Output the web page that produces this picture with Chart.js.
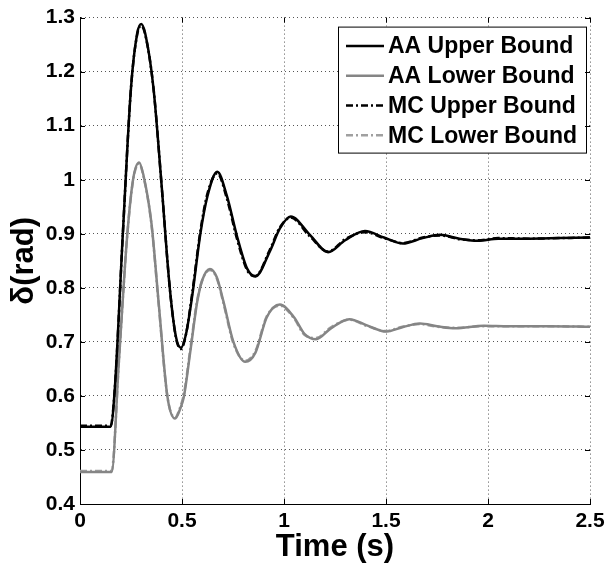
<!DOCTYPE html>
<html>
<head>
<meta charset="utf-8">
<script src="https://cdn.jsdelivr.net/npm/chart.js@4/dist/chart.umd.min.js"></script>
<style>
  body { margin: 0; background: #fff; }
  #wrap { width: 611px; height: 567px; position: relative; }
</style>
</head>
<body>
<div id="wrap"><canvas id="deltaChart"></canvas></div>
<script>
// time samples (s)
const tUpper = [0, 0.15, 0.17, 0.21, 0.25, 0.28, 0.30, 0.32, 0.36, 0.40, 0.44, 0.47, 0.495, 0.52, 0.55, 0.59, 0.625, 0.673, 0.72, 0.77, 0.82, 0.86, 0.93, 0.98, 1.033, 1.127, 1.216, 1.30, 1.397, 1.49, 1.583, 1.68, 1.765, 1.86, 1.95, 2.05, 2.2, 2.35, 2.5];
const tLower = [0, 0.155, 0.19, 0.23, 0.26, 0.29, 0.31, 0.35, 0.385, 0.428, 0.466, 0.49, 0.51, 0.54, 0.575, 0.60, 0.637, 0.67, 0.703, 0.752, 0.81, 0.86, 0.915, 0.98, 1.05, 1.10, 1.157, 1.23, 1.32, 1.41, 1.50, 1.58, 1.667, 1.75, 1.84, 1.98, 2.1, 2.3, 2.5];

// delta (rad)
const aaUpper = [0.543, 0.543, 0.61, 0.90, 1.17, 1.27, 1.288, 1.27, 1.17, 0.99, 0.80, 0.71, 0.689, 0.715, 0.785, 0.90, 0.97, 1.015, 0.97, 0.895, 0.835, 0.821, 0.867, 0.91, 0.932, 0.898, 0.866, 0.888, 0.905, 0.893, 0.882, 0.892, 0.898, 0.891, 0.887, 0.891, 0.891, 0.892, 0.893];
const aaLower = [0.459, 0.459, 0.66, 0.89, 1.0, 1.032, 1.01, 0.92, 0.775, 0.60, 0.558, 0.575, 0.60, 0.68, 0.775, 0.815, 0.835, 0.82, 0.775, 0.70, 0.663, 0.68, 0.745, 0.769, 0.745, 0.715, 0.705, 0.725, 0.742, 0.73, 0.719, 0.727, 0.734, 0.729, 0.725, 0.730, 0.729, 0.729, 0.728];
const mcUpper = [0.545, 0.545, 0.61, 0.90, 1.17, 1.268, 1.285, 1.268, 1.17, 0.99, 0.80, 0.708, 0.687, 0.715, 0.79, 0.905, 0.975, 1.012, 0.965, 0.89, 0.832, 0.822, 0.87, 0.912, 0.93, 0.895, 0.867, 0.89, 0.903, 0.892, 0.883, 0.893, 0.897, 0.89, 0.888, 0.892, 0.891, 0.892, 0.893];
const mcLower = [0.461, 0.461, 0.66, 0.89, 0.998, 1.03, 1.008, 0.918, 0.772, 0.60, 0.56, 0.578, 0.605, 0.685, 0.778, 0.815, 0.833, 0.818, 0.772, 0.697, 0.665, 0.683, 0.747, 0.767, 0.743, 0.713, 0.707, 0.727, 0.741, 0.729, 0.72, 0.728, 0.733, 0.728, 0.726, 0.729, 0.729, 0.729, 0.728];

const seriesNames = ["AA Upper Bound", "AA Lower Bound", "MC Upper Bound", "MC Lower Bound"];

const dashDot = [7, 3, 2, 3];
const pts = (ts, vs) => ts.map((t, i) => ({ x: t, y: vs[i] }));

function makeSet(label, ts, vs, color, dash) {
  return {
    label: label,
    data: pts(ts, vs),
    borderColor: color,
    borderWidth: 2.5,
    borderDash: dash,
    pointRadius: 0,
    cubicInterpolationMode: "monotone",
    fill: false,
  };
}

// legend drawn as a boxed overlay in the top-right of the plot
const boxLegend = {
  id: "boxLegend",
  afterDatasetsDraw(chart) {
    const ctx = chart.ctx;
    const area = chart.chartArea;
    const w = 248, h = 126;
    const left = area.right - 4 - w, top = area.top + 9;
    ctx.save();
    ctx.fillStyle = "#fff";
    ctx.fillRect(left, top, w, h);
    ctx.strokeStyle = "#000";
    ctx.lineWidth = 1;
    ctx.setLineDash([]);
    ctx.strokeRect(left + 0.5, top + 0.5, w, h);
    ctx.font = "bold 23px 'Liberation Sans', Arial, sans-serif";
    ctx.textBaseline = "middle";
    chart.data.datasets.forEach((ds, i) => {
      const y = top + 19.5 + i * 29.7;
      ctx.strokeStyle = ds.borderColor;
      ctx.lineWidth = 2.5;
      ctx.setLineDash(ds.borderDash || []);
      ctx.beginPath();
      ctx.moveTo(left + 8, y);
      ctx.lineTo(left + 46, y);
      ctx.stroke();
      ctx.setLineDash([]);
      ctx.fillStyle = "#000";
      ctx.fillText(ds.label, left + 50, y + 1);
    });
    ctx.restore();
  },
};

// small inward tick marks on all four sides, matlab style
const inwardTicks = {
  id: "inwardTicks",
  afterDraw(chart) {
    const ctx = chart.ctx;
    const a = chart.chartArea;
    const xs = chart.scales.x, ys = chart.scales.y;
    ctx.save();
    ctx.strokeStyle = "#000";
    ctx.lineWidth = 1;
    xs.ticks.forEach((tk) => {
      const px = Math.round(xs.getPixelForValue(tk.value)) + 0.5;
      ctx.beginPath();
      ctx.moveTo(px, a.bottom); ctx.lineTo(px, a.bottom - 5);
      ctx.moveTo(px, a.top); ctx.lineTo(px, a.top + 5);
      ctx.stroke();
    });
    ys.ticks.forEach((tk) => {
      const py = Math.round(ys.getPixelForValue(tk.value)) + 0.5;
      ctx.beginPath();
      ctx.moveTo(a.left, py); ctx.lineTo(a.left + 5, py);
      ctx.moveTo(a.right, py); ctx.lineTo(a.right - 5, py);
      ctx.stroke();
    });
    ctx.restore();
  },
};

const tickFont = { family: "'Liberation Sans', Arial, sans-serif", size: 21, weight: "bold" };
const titleFont = { family: "'Liberation Sans', Arial, sans-serif", size: 31, weight: "bold" };
const fmt = (v) => String(Number(v.toFixed(1)));

const ctx = document.getElementById("deltaChart").getContext("2d");
new Chart(ctx, {
  type: "line",
  data: {
    datasets: [
      makeSet(seriesNames[0], tUpper, aaUpper, "#000000", []),
      makeSet(seriesNames[1], tLower, aaLower, "#858585", []),
      makeSet(seriesNames[2], tUpper, mcUpper, "#000000", dashDot),
      makeSet(seriesNames[3], tLower, mcLower, "#a0a0a0", dashDot),
    ],
  },
  options: {
    responsive: true,
    maintainAspectRatio: false,
    animation: false,
    layout: { padding: { top: 14, right: 21, left: 0, bottom: 0 } },
    plugins: {
      legend: { display: false },
      tooltip: { enabled: false },
    },
    scales: {
      x: {
        type: "linear",
        min: 0,
        max: 2.5,
        ticks: { stepSize: 0.5, color: "#000", font: tickFont, padding: 5, maxRotation: 0, callback: fmt },
        grid: { color: "#555", lineWidth: 1, drawTicks: false },
        border: { display: true, color: "#000", width: 1, dash: [1, 3] },
        title: { display: true, text: "Time (s)", color: "#000", font: titleFont, padding: { top: 0, bottom: 1 } },
        afterFit: (s) => { s.height = 63; },
      },
      y: {
        min: 0.4,
        max: 1.3,
        ticks: { stepSize: 0.1, color: "#000", font: tickFont, padding: 5, callback: fmt },
        grid: { color: "#555", lineWidth: 1, drawTicks: false },
        border: { display: true, color: "#000", width: 1, dash: [1, 3] },
        title: { display: true, text: "δ(rad)", color: "#000", font: titleFont, padding: { top: 6, bottom: 0 } },
        afterFit: (s) => { s.width = 80; },
      },
    },
  },
  plugins: [boxLegend, inwardTicks],
});
</script>
</body>
</html>
